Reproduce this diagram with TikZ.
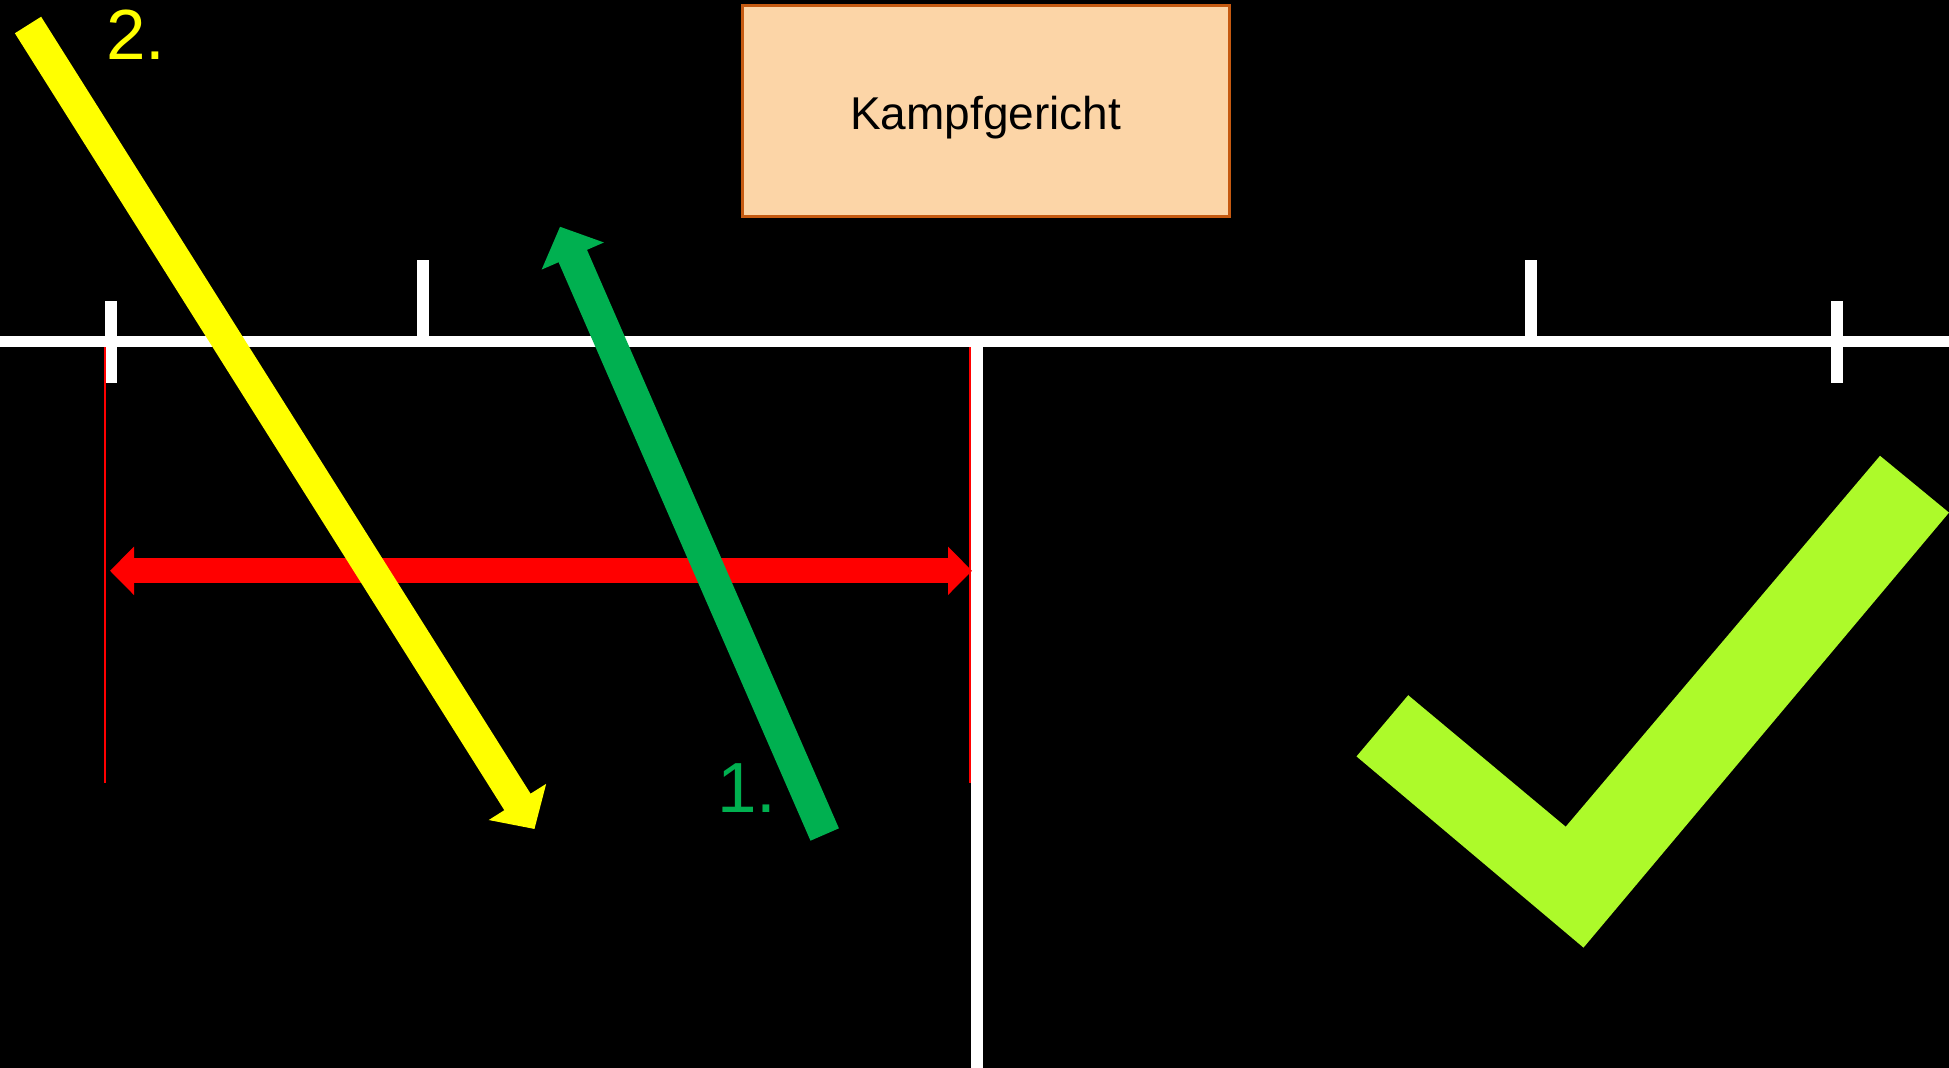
\documentclass[tikz,border=0pt]{standalone}
\usepackage{fontspec}
\setmainfont{Liberation Sans}
\usetikzlibrary{arrows.meta}
\definecolor{bg}{RGB}{0,0,0}
\definecolor{yel}{RGB}{255,255,0}
\definecolor{grn}{RGB}{0,176,80}
\definecolor{rd}{RGB}{255,0,0}
\definecolor{chk}{RGB}{173,250,42}
\definecolor{peach}{RGB}{252,213,167}
\definecolor{rust}{RGB}{197,90,17}
\tikzset{
  white line/.style={draw=white, line width=11pt},
  tickmark/.style={fill=white, draw=none},
  thin red/.style={draw=rd, line width=2pt},
  bigarrow/.style={line width=31pt, line cap=butt, -{Triangle[length=32pt,width=66pt]}},
  redarrow/.style={draw=rd, line width=25pt, line cap=butt, {Triangle[length=24pt,width=47pt]}-{Triangle[length=24pt,width=47pt]}},
  judgebox/.style={draw=rust, line width=3pt, fill=peach, minimum width=487pt, minimum height=211pt, inner sep=0pt,
    font=\fontsize{46}{50}\selectfont, text height=37pt, text depth=0pt},
  steplabel/.style={font=\fontsize{71}{75}\selectfont, inner sep=0pt, anchor=base}
}
\begin{document}
\begin{tikzpicture}[x=1pt,y=-1pt]
\fill[bg] (0,0) rectangle (1949,1068);
\useasboundingbox (0,0) rectangle (1949,1068);
% court lines
\coordinate (hl) at (0,341.5);
\coordinate (hr) at (1949,341.5);
\coordinate (vt) at (977,341);
\coordinate (vb) at (977,1068);
\draw[white line] (hl) -- (hr);
\draw[draw=white, line width=12pt] (vt) -- (vb);
\fill[tickmark] (105,301) rectangle (117,383);
\fill[tickmark] (417.3,260) rectangle (429.3,342);
\fill[tickmark] (1525,260) rectangle (1536.7,342);
\fill[tickmark] (1831,301) rectangle (1843,383);
% thin red lines
\coordinate (rl1) at (105,347);
\coordinate (rl2) at (105,783);
\coordinate (rr1) at (969.5,347);
\coordinate (rr2) at (969.5,783);
\draw[thin red] (rl1) -- (rl2);
\draw[thin red] (rr1) -- (rr2);
% red double arrow
\coordinate (ra) at (110,570.8);
\coordinate (rb) at (972,570.8);
\draw[redarrow] (ra) -- (rb);
% judges box
\node[judgebox] (kg) at (985.7,111.3) {Kampfgericht};
% green arrow (1.)
\coordinate (g1) at (824.7,834.5);
\coordinate (g2) at (560,226.7);
\draw[bigarrow, draw=grn, fill=grn] (g1) -- (g2);
\node[steplabel, text=grn] (l1) at (747,812) {1.};
% yellow arrow (2.)
\coordinate (y1) at (28,25);
\coordinate (y2) at (534.5,829);
\draw[bigarrow, draw=yel, fill=yel] (y1) -- (y2);
\node[steplabel, text=yel] (l2) at (136,59) {2.};
% check mark
\fill[chk] (1356.5,756.4) -- (1408.2,695.2) -- (1565.7,826.7) -- (1880,455.8) -- (1949,512.6) -- (1583.5,947.6) -- cycle;
\end{tikzpicture}
\end{document}
